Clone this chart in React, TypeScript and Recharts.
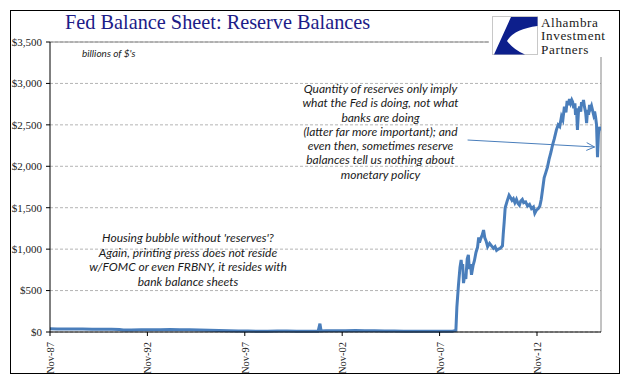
import { CartesianGrid, Line, LineChart, ReferenceLine, XAxis, YAxis } from "recharts";

// decimal years (Nov-87 = 1987.833)
const years = [
  1987.83, 1988.2, 1988.6, 1989.0, 1989.5, 1990.0, 1990.5, 1991.0, 1991.4, 1991.6,
  1992.0, 1992.5, 1993.0, 1993.5, 1994.0, 1994.5, 1995.0, 1995.5, 1996.0, 1996.5,
  1997.0, 1997.5, 1998.0, 1998.5, 1999.0, 1999.5, 2000.0, 2000.5, 2001.0, 2001.6,
  2001.69, 2001.75, 2002.0, 2002.5, 2003.0, 2003.5, 2004.0, 2004.5, 2005.0, 2005.5,
  2006.0, 2006.5, 2007.0, 2007.5, 2008.0, 2008.5, 2008.67, 2008.72, 2008.8, 2008.88,
  2008.94, 2008.98, 2009.02, 2009.06, 2009.12, 2009.18, 2009.25, 2009.31, 2009.36, 2009.42,
  2009.47, 2009.55, 2009.62, 2009.7, 2009.78, 2009.84, 2009.88, 2009.95, 2010.02, 2010.09,
  2010.15, 2010.22, 2010.3, 2010.4, 2010.5, 2010.6, 2010.68, 2010.76, 2010.85, 2010.95,
  2011.06, 2011.1, 2011.15, 2011.2, 2011.3, 2011.4, 2011.48, 2011.55, 2011.62, 2011.7,
  2011.78, 2011.86, 2011.93, 2012.0, 2012.08, 2012.15, 2012.25, 2012.35, 2012.45, 2012.55,
  2012.65, 2012.72, 2012.8, 2012.9, 2012.98, 2013.05, 2013.12, 2013.2, 2013.28, 2013.37,
  2013.45, 2013.55, 2013.63, 2013.72, 2013.83, 2013.92, 2014.0, 2014.09, 2014.16, 2014.24,
  2014.32, 2014.38, 2014.44, 2014.5, 2014.56, 2014.62, 2014.66, 2014.72, 2014.78, 2014.81,
  2014.86, 2014.91, 2014.96, 2015.02, 2015.08, 2015.12, 2015.17, 2015.22, 2015.27, 2015.33,
  2015.38, 2015.43, 2015.48, 2015.53, 2015.58, 2015.63, 2015.68, 2015.74, 2015.79, 2015.84,
  2015.89, 2015.94, 2015.99, 2016.04, 2016.09,
];

// reserve balances, billions of $
const reserves = [
  38, 36, 37, 36, 35, 34, 33, 32, 30, 25,
  25, 26, 28, 27, 29, 28, 27, 24, 22, 18,
  14, 12, 11, 10, 10, 11, 12, 10, 10, 10,
  100, 12, 14, 15, 16, 17, 15, 14, 12, 11,
  10, 9, 10, 9, 10, 10, 20, 300, 560, 780,
  870, 760, 820, 590, 680, 640, 880, 930, 760, 820,
  690, 800, 860, 960, 1020, 1140, 1080, 1130, 1170, 1230,
  1140, 1100, 1030, 1070, 1040, 1010, 1030, 985, 1000, 1010,
  1040, 1180, 1330, 1500, 1580, 1650, 1620, 1590, 1610, 1560,
  1600, 1550, 1530, 1580, 1600, 1560, 1570, 1520, 1540, 1490,
  1510, 1435, 1470, 1490, 1520, 1600, 1720, 1860, 1920, 1990,
  2080, 2170, 2255, 2330, 2440, 2500, 2480, 2600, 2560, 2720,
  2650, 2790, 2740, 2810, 2760, 2800, 2780, 2700, 2760, 2620,
  2700, 2440, 2650, 2720, 2660, 2775, 2730, 2800, 2720, 2650,
  2520, 2680, 2620, 2740, 2700, 2730, 2680, 2620, 2660, 2595,
  2500, 2110, 2400, 2475, 2430,
];

const xTicks = [1987.833, 1992.833, 1997.833, 2002.833, 2007.833, 2012.833];
const xTickLabels = ["Nov-87", "Nov-92", "Nov-97", "Nov-02", "Nov-07", "Nov-12"];
const yTicks = [0, 500, 1000, 1500, 2000, 2500, 3000, 3500];

const logoLines = ["Alhambra", "Investment", "Partners"];

const noteTop = [
  "Quantity of reserves only imply",
  "what the Fed is doing, not what",
  "banks are doing",
  "(latter far more important); and",
  "even then, sometimes reserve",
  "balances tell us nothing about",
  "monetary policy",
];
const noteBottom = [
  "Housing bubble without 'reserves'?",
  "Again, printing press does not reside",
  "w/FOMC or even FRBNY, it resides with",
  "bank balance sheets",
];

const data = years.map((t, i) => ({ t, v: reserves[i] }));

const serif = "'Liberation Serif', 'Times New Roman', serif";
const italicFont = "Lato, 'Open Sans', sans-serif";

function XTick(props: any) {
  const { x, y, payload } = props;
  const i = xTicks.indexOf(payload.value);
  return (
    <text
      x={x}
      y={y}
      dx={-4}
      dy={4}
      transform={`rotate(-90 ${x} ${y})`}
      textAnchor="end"
      fontFamily={serif}
      fontSize={10.5}
      fill="#222"
    >
      {xTickLabels[i]}
    </text>
  );
}

function Arrow(props: any) {
  const { x1, y1, x2, y2 } = props;
  const a = Math.atan2(y2 - y1, x2 - x1);
  const L = 9;
  const p1 = [x2 - L * Math.cos(a - 0.45), y2 - L * Math.sin(a - 0.45)];
  const p2 = [x2 - L * Math.cos(a + 0.45), y2 - L * Math.sin(a + 0.45)];
  return (
    <g stroke="#4a7ebb" strokeWidth={1} fill="none">
      <line x1={x1} y1={y1} x2={x2} y2={y2} />
      <polyline points={`${p1[0]},${p1[1]} ${x2},${y2} ${p2[0]},${p2[1]}`} />
    </g>
  );
}

function Logo() {
  return (
    <div style={{ position: "absolute", left: 489, top: 12, width: 128, height: 45, background: "#fff" }}>
      <svg width={128} height={45} style={{ position: "absolute", left: 0, top: 0 }}>
        <rect x={3.5} y={4.5} width={45} height={38} fill="#fff" stroke="#c8c8c8" />
        <path d="M22,5 L48.5,5 L48.5,14 Q25,17 18,29 Q25,38 36,42.5 L5,42.5 Z" fill="#0d1f8c" />
        {logoLines.map((s, i) => (
          <text
            key={s}
            x={52}
            y={14.5 + i * 13.5}
            fontFamily={serif}
            fontSize={13.2}
            letterSpacing={0.6}
            fill="#1a1a1a"
          >
            {s}
          </text>
        ))}
      </svg>
    </div>
  );
}

export default function App() {
  return (
    <div style={{ position: "absolute", left: 0, top: 0, width: 641, height: 381, background: "#fff" }}>
      <LineChart
        width={641}
        height={381}
        data={data}
        margin={{ top: 42, right: 40, bottom: 4, left: 10 }}
      >
        <CartesianGrid vertical={false} stroke="#b4b4b4" strokeDasharray="3 2" />
        <ReferenceLine y={3500} stroke="#868686" strokeWidth={1} />
        <ReferenceLine x={2016.119} stroke="#868686" strokeWidth={1} />
        <XAxis
          dataKey="t"
          type="number"
          domain={[1987.833, 2016.119]}
          ticks={xTicks}
          interval={0}
          allowDataOverflow
          height={45}
          tickSize={4}
          axisLine={{ stroke: "#000" }}
          tickLine={{ stroke: "#000" }}
          tick={<XTick />}
        />
        <YAxis
          type="number"
          domain={[0, 3500]}
          ticks={yTicks}
          interval={0}
          width={40}
          tickSize={4}
          tickMargin={4}
          axisLine={{ stroke: "#000" }}
          tickLine={{ stroke: "#000" }}
          tickFormatter={(v: number) => `$${v.toLocaleString("en-US")}`}
          tick={{ fontFamily: serif, fontSize: 11, fill: "#222" }}
        />
        <Line
          type="linear"
          dataKey="v"
          stroke="#4a7ebb"
          strokeWidth={3}
          dot={false}
          isAnimationActive={false}
        />
        <ReferenceLine
          segment={[
            { x: 2009.27, y: 2317 },
            { x: 2015.79, y: 2233 },
          ]}
          shape={(p: any) => <Arrow {...p} />}
        />
      </LineChart>

      <div
        style={{
          position: "absolute",
          left: 10,
          top: 10,
          width: 610,
          height: 364,
          border: "1px solid #000",
          boxSizing: "border-box",
          pointerEvents: "none",
        }}
      />

      <div
        style={{
          position: "absolute",
          left: 65,
          top: 10,
          fontFamily: serif,
          fontSize: 20.3,
          lineHeight: "25px",
          color: "#1c1c88",
          whiteSpace: "nowrap",
        }}
      >
        Fed Balance Sheet: Reserve Balances
      </div>

      <Logo />

      <div
        style={{
          position: "absolute",
          left: 82,
          top: 46,
          fontFamily: italicFont,
          fontStyle: "italic",
          fontSize: 10,
          lineHeight: "14px",
          color: "#222",
          whiteSpace: "nowrap",
        }}
      >
        billions of $'s
      </div>

      <div
        style={{
          position: "absolute",
          left: 270,
          top: 82,
          width: 221,
          textAlign: "center",
          fontFamily: italicFont,
          fontStyle: "italic",
          fontSize: 12,
          lineHeight: "14.3px",
          color: "#1a1a1a",
        }}
      >
        {noteTop.map((s) => (
          <div key={s} style={{ whiteSpace: "nowrap" }}>{s}</div>
        ))}
      </div>

      <div
        style={{
          position: "absolute",
          left: 68,
          top: 231,
          width: 240,
          textAlign: "center",
          fontFamily: italicFont,
          fontStyle: "italic",
          fontSize: 12,
          lineHeight: "14.6px",
          color: "#1a1a1a",
        }}
      >
        {noteBottom.map((s) => (
          <div key={s} style={{ whiteSpace: "nowrap" }}>{s}</div>
        ))}
      </div>
    </div>
  );
}
